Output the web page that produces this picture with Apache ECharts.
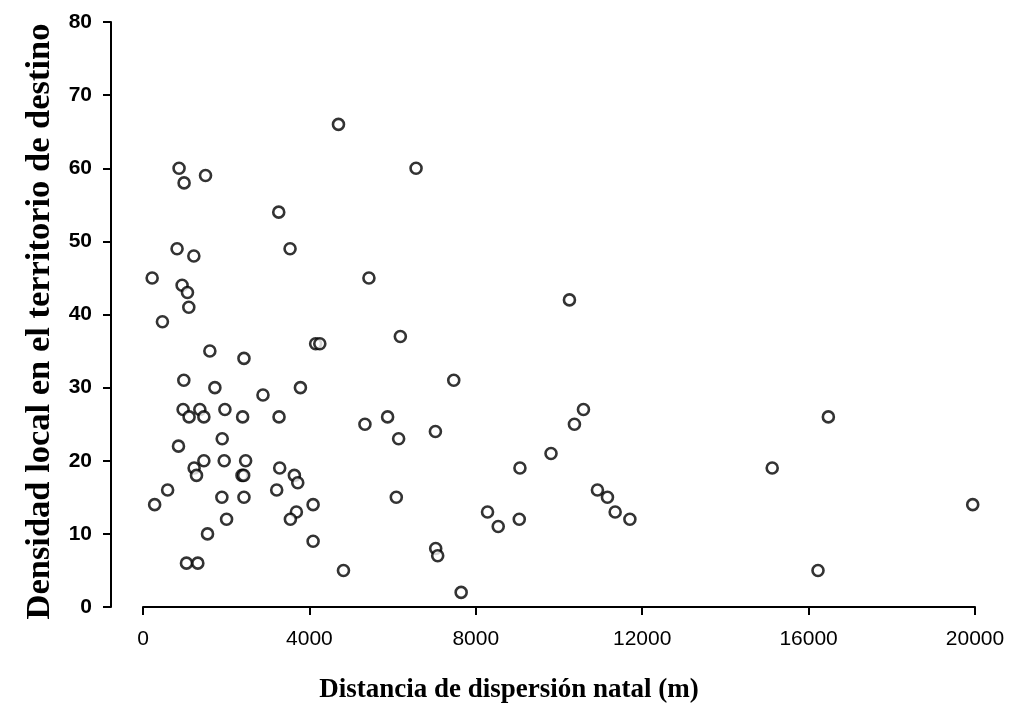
<!DOCTYPE html>
<html>
<head>
<meta charset="utf-8">
<script src="https://cdn.jsdelivr.net/npm/echarts@6/dist/echarts.min.js"></script>
<style>
html,body{margin:0;padding:0;background:#fff;}
#chart{width:1012px;height:716px;}
</style>
</head>
<body>
<div id="chart"></div>
<script>
// Distance of natal dispersal (m)
const distX = [
  220, 280, 467, 592, 867, 988, 1503, 819, 1222, 940,
  1069, 1101, 853, 981, 964, 1366, 1108, 1463, 1229, 1286,
  1463, 1045, 1318, 1551, 1607, 1728, 1969, 1904, 1952, 2009,
  1896, 2427, 2395, 2467, 2380, 2420, 2427, 2884, 3263, 3535,
  3784, 3270, 3286, 3214, 3639, 3720, 3687, 3543, 4089, 4089,
  4150, 4250, 4699, 4819, 5431, 5335, 5880, 6145, 6089, 6186,
  6564, 7029, 7036, 7084, 7470, 7648, 8282, 8539, 9045, 9061,
  9808, 10251, 10371, 10588, 10924, 11165, 11350, 11704, 15125, 16226,
  16475, 19945
];
// Local density in the destination territory
const densY = [
  45, 14, 39, 16, 60, 58, 59, 49, 48, 44,
  43, 41, 22, 31, 27, 27, 26, 26, 19, 18,
  20, 6, 6, 10, 35, 30, 27, 23, 20, 12,
  15, 34, 26, 20, 18, 18, 15, 29, 54, 49,
  30, 26, 19, 16, 18, 17, 13, 12, 14, 9,
  36, 36, 66, 5, 45, 25, 26, 23, 15, 37,
  60, 24, 8, 7, 31, 2, 13, 11, 12, 19,
  21, 42, 25, 27, 16, 15, 13, 12, 19, 5,
  26, 14
];
const xTicks = [0, 4000, 8000, 12000, 16000, 20000];
const yTicks = [0, 10, 20, 30, 40, 50, 60, 70, 80];

const points = distX.map((d, i) => [d, densY[i]]);

const chart = echarts.init(document.getElementById('chart'), null, {renderer: 'canvas'});
chart.setOption({
  backgroundColor: '#ffffff',
  animation: false,
  grid: {left: 143, right: 37, top: 22, bottom: 109, containLabel: false},
  xAxis: {
    type: 'value',
    min: xTicks[0], max: xTicks[xTicks.length - 1], interval: 4000,
    name: 'Distancia de dispersión natal (m)',
    nameLocation: 'middle',
    nameGap: 70,
    nameTextStyle: {fontFamily: 'Liberation Serif', fontWeight: 'bold', fontSize: 27, color: '#000', padding: [0, 100, 0, 0]},
    axisLine: {show: true, onZero: false, lineStyle: {color: '#000', width: 2}},
    axisTick: {show: true, inside: false, length: 8, lineStyle: {color: '#000', width: 2}},
    axisLabel: {fontFamily: 'Liberation Sans', fontSize: 21, color: '#000', margin: 22,
      formatter: v => String(v)},
    splitLine: {show: false}
  },
  yAxis: {
    type: 'value',
    min: yTicks[0], max: yTicks[yTicks.length - 1], interval: 10,
    offset: 32,
    name: 'Densidad local en el territorio de destino',
    nameLocation: 'middle',
    nameGap: 52,
    nameTextStyle: {fontFamily: 'Liberation Serif', fontWeight: 'bold', fontSize: 34.5, color: '#000', padding: [0, 14, 0, 0]},
    axisLine: {show: true, onZero: false, lineStyle: {color: '#000', width: 2}},
    axisTick: {show: true, inside: false, length: 8, lineStyle: {color: '#000', width: 2}},
    axisLabel: {fontFamily: 'Liberation Sans', fontWeight: 'bold', fontSize: 21, color: '#000', margin: 19,
      formatter: v => String(v)},
    splitLine: {show: false}
  },
  series: [{
    type: 'scatter',
    data: points,
    symbol: 'circle',
    symbolSize: 11,
    itemStyle: {color: '#ffffff', borderColor: '#000000', borderWidth: 2.6},
    emphasis: {disabled: true}
  }]
});
</script>
</body>
</html>
